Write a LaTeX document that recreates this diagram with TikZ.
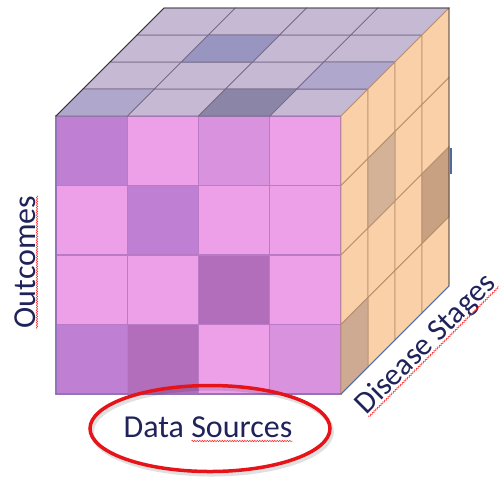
\documentclass[tikz,border=0pt]{standalone}
\usepackage{fontspec}
\setmainfont{Carlito}
\usetikzlibrary{decorations.pathmorphing}

\definecolor{fpink}{RGB}{237,160,232}
\definecolor{fdark}{RGB}{191,128,211}
\definecolor{fmid}{RGB}{217,146,222}
\definecolor{fdeep}{RGB}{179,110,187}
\definecolor{frontline}{RGB}{186,122,200}
\definecolor{tlight}{RGB}{197,185,212}
\definecolor{tblue}{RGB}{152,150,192}
\definecolor{tsoft}{RGB}{175,168,204}
\definecolor{tdeep}{RGB}{139,134,168}
\definecolor{topline}{RGB}{120,105,135}
\definecolor{speach}{RGB}{249,208,168}
\definecolor{stan}{RGB}{212,178,152}
\definecolor{sbrown}{RGB}{200,160,130}
\definecolor{sdusk}{RGB}{205,170,145}
\definecolor{sideline}{RGB}{185,145,110}
\definecolor{edgeblue}{RGB}{80,105,160}
\definecolor{labelnavy}{RGB}{31,35,90}
\definecolor{ringred}{RGB}{230,20,25}

\begin{document}
\begin{tikzpicture}[x=1pt,y=-1pt,
  frontcell/.style={fill=#1,draw=frontline,line width=1.2pt},
  topcell/.style={fill=#1,draw=topline,line width=0.7pt},
  sidecell/.style={fill=#1,draw=sideline,line width=0.8pt},
  axislabel/.style={text=labelnavy,font=\fontsize{32}{36}\selectfont,inner sep=0pt},
  squiggle/.style={draw=red!85,line width=0.5pt,decorate,
    decoration={snake,segment length=2.5pt,amplitude=0.8pt}}]

\useasboundingbox (0,0) rectangle (502,480);

% front face: data sources x outcomes
\foreach \r in {0,...,3}
  \foreach \c in {0,...,3}
    \filldraw[frontcell=fpink] (56+\c*71.25,116+\r*69.5) rectangle ++(71.25,69.5);
\foreach \c/\r/\col in {0/0/fdark,2/0/fmid,1/1/fdark,2/2/fdeep,0/3/fdark,1/3/fdeep,3/3/fmid}
  \filldraw[frontcell=\col] (56+\c*71.25,116+\r*69.5) rectangle ++(71.25,69.5);

% top face
\foreach \i in {0,...,3}
  \foreach \j in {0,...,3}
    \filldraw[topcell=tlight] (56+\i*71.25+\j*27,116-\j*27) -- ++(71.25,0) -- ++(27,-27) -- ++(-71.25,0) -- cycle;
\foreach \i/\j/\col in {1/2/tblue,3/1/tsoft,0/0/tsoft,2/0/tdeep}
  \filldraw[topcell=\col] (56+\i*71.25+\j*27,116-\j*27) -- ++(71.25,0) -- ++(27,-27) -- ++(-71.25,0) -- cycle;

% right face: disease stages
\foreach \k in {0,...,3}
  \foreach \r in {0,...,3}
    \filldraw[sidecell=speach] (341+\k*27,116-\k*27+\r*69.5) -- ++(27,-27) -- ++(0,69.5) -- ++(-27,27) -- cycle;
\foreach \k/\r/\col in {1/1/stan,3/2/sbrown,0/3/sdusk}
  \filldraw[sidecell=\col] (341+\k*27,116-\k*27+\r*69.5) -- ++(27,-27) -- ++(0,69.5) -- ++(-27,27) -- cycle;

% cube edges
\draw[line width=0.8pt,black!80] (56,116) -- (164,8) -- (449,8) -- (449,286);
\draw[line width=0.8pt,edgeblue] (56,116) -- (56,394) -- (341,394) -- (449,286);
\draw[line width=1.5pt,edgeblue] (451,148) -- (451,174);

% axis labels
\node[axislabel,rotate=90,anchor=base] (outcomes) at (35,262) {Outcomes};
\node[axislabel,anchor=base] (sources) at (208,437) {Data Sources};
\node[axislabel,font=\fontsize{31}{35}\selectfont,rotate=45,anchor=base] (stages) at (432,350) {Disease Stages};

\draw[squiggle] ([xshift=2pt]outcomes.base west) -- ([xshift=2pt]outcomes.base east);
\draw[squiggle] ([xshift=-101pt,yshift=-4pt]sources.base east) -- ([yshift=-4pt]sources.base east);
\draw[squiggle] ([xshift=1.8pt,yshift=-1.8pt]stages.base west) -- ([xshift=1.8pt,yshift=-1.8pt]stages.base east);

% ring round the data sources
\draw[line width=4pt,black,opacity=0.12] (212,431.5) ellipse [x radius=120, y radius=43];
\draw[line width=3.5pt,ringred] (210,428.5) ellipse [x radius=120, y radius=43];

\end{tikzpicture}
\end{document}
